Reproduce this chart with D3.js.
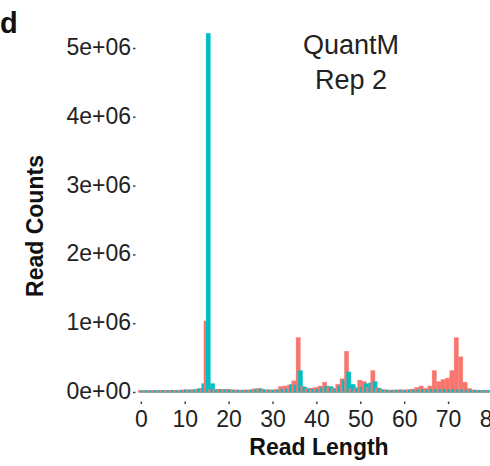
<!DOCTYPE html>
<html><head><meta charset="utf-8">
<script src="https://cdn.jsdelivr.net/npm/d3@7"></script>
<style>body{margin:0;background:#fff;} svg{display:block;}</style>
</head><body>
<svg id="chart" width="490" height="466"></svg>
<script>
// Read lengths (bins)
const lengths = [0,1,2,3,4,5,6,7,8,9,10,11,12,13,14,15,16,17,18,19,20,21,22,23,24,25,26,27,28,29,30,31,32,33,34,35,36,37,38,39,40,41,42,43,44,45,46,47,48,49,50,51,52,53,54,55,56,57,58,59,60,61,62,63,64,65,66,67,68,69,70,71,72,73,74,75,76,77,78,79,80];
// Series 1 (salmon)
const seriesA = [30000,32000,30000,33000,31000,34000,32000,35000,33000,36000,40000,38000,42000,45000,60000,1040000,45000,48000,50000,45000,48000,40000,38000,36000,38000,40000,55000,60000,42000,40000,38000,45000,90000,95000,110000,170000,800000,90000,60000,65000,75000,95000,150000,85000,60000,120000,200000,600000,60000,60000,180000,160000,80000,320000,70000,40000,38000,36000,38000,40000,38000,42000,50000,75000,95000,60000,95000,320000,160000,190000,210000,320000,800000,520000,150000,60000,35000,32000,30000,30000,28000];
// Series 2 (cyan)
const seriesB = [28000,30000,29000,31000,30000,32000,31000,33000,32000,34000,40000,38000,45000,60000,130000,5220000,130000,45000,42000,45000,40000,36000,35000,34000,35000,38000,50000,55000,40000,38000,36000,40000,50000,55000,120000,110000,320000,80000,55000,50000,55000,70000,95000,85000,55000,100000,180000,300000,120000,70000,80000,130000,140000,160000,60000,40000,36000,35000,36000,38000,36000,38000,40000,42000,45000,40000,50000,48000,45000,50000,45000,48000,45000,42000,40000,38000,36000,35000,34000,33000,32000];
const xTicks = [0,10,20,30,40,50,60,70,80];
const yTicks = [0,1e6,2e6,3e6,4e6,5e6];
const yTickLabels = ["0e+00","1e+06","2e+06","3e+06","4e+06","5e+06"];
const colors = ["#F8766D","#00BFC4"];

const svg = d3.select("#chart");
const font = "'Liberation Sans', Arial, Helvetica, sans-serif";

const x = d3.scaleLinear().domain([0, 80]).range([141.3, 492.5]);
const y = d3.scaleLinear().domain([0, 5e6]).range([392.5, 48.5]);

// bars of width 1 bin, dodged by half a bin (overlapping), drawn in bin order
const series = [seriesA, seriesB];
const barData = [];
lengths.forEach((L, i) => {
  series.forEach((vals, si) => barData.push({ L, si, v: vals[i] }));
});
const barW = 1.0, dodge = 0.5;
svg.append("g").selectAll("rect").data(barData).enter().append("rect")
  .attr("x", d => x(d.L + (d.si - 0.5) * dodge - barW / 2))
  .attr("width", x(barW) - x(0))
  .attr("y", d => y(d.v))
  .attr("height", d => y(0) - y(d.v))
  .attr("fill", d => colors[d.si])
  .attr("stroke", d => colors[d.si])
  .attr("stroke-opacity", 0.4)
  .attr("stroke-width", 0.6);

// y axis labels + tiny ticks
const yAxis = svg.append("g").attr("font-family", font).attr("fill", "#222");
yTicks.forEach((t, i) => {
  yAxis.append("text").attr("x", 131).attr("y", y(t)).attr("dy", "0.28em")
    .attr("text-anchor", "end").attr("font-size", 23).text(yTickLabels[i]);
  yAxis.append("line").attr("x1", 133).attr("x2", 135.5).attr("y1", y(t)).attr("y2", y(t))
    .attr("stroke", "#444").attr("stroke-width", 1.5);
});

// x axis labels + tiny ticks
const xAxis = svg.append("g").attr("font-family", font).attr("fill", "#222");
xTicks.forEach(t => {
  xAxis.append("line").attr("x1", x(t)).attr("x2", x(t)).attr("y1", 401.5).attr("y2", 404)
    .attr("stroke", "#444").attr("stroke-width", 1.5);
  xAxis.append("text").attr("x", x(t)).attr("y", 427).attr("text-anchor", "middle")
    .attr("font-size", 23).text(t);
});

// axis titles
svg.append("text").attr("x", 319).attr("y", 455).attr("text-anchor", "middle")
  .attr("font-family", font).attr("font-weight", "bold").attr("font-size", 23).attr("fill", "#111")
  .text("Read Length");
svg.append("text").attr("transform", "translate(43,226) rotate(-90)").attr("text-anchor", "middle")
  .attr("font-family", font).attr("font-weight", "bold").attr("font-size", 23).attr("fill", "#111")
  .text("Read Counts");

// panel title
svg.append("text").attr("x", 351).attr("y", 54).attr("text-anchor", "middle")
  .attr("font-family", font).attr("font-size", 27).attr("fill", "#222").text("QuantM");
svg.append("text").attr("x", 351).attr("y", 89).attr("text-anchor", "middle")
  .attr("font-family", font).attr("font-size", 27).attr("fill", "#222").text("Rep 2");

// figure letter
svg.append("text").attr("x", 0).attr("y", 33)
  .attr("font-family", font).attr("font-weight", "bold").attr("font-size", 29).attr("fill", "#111").text("d");
</script>
</body></html>
